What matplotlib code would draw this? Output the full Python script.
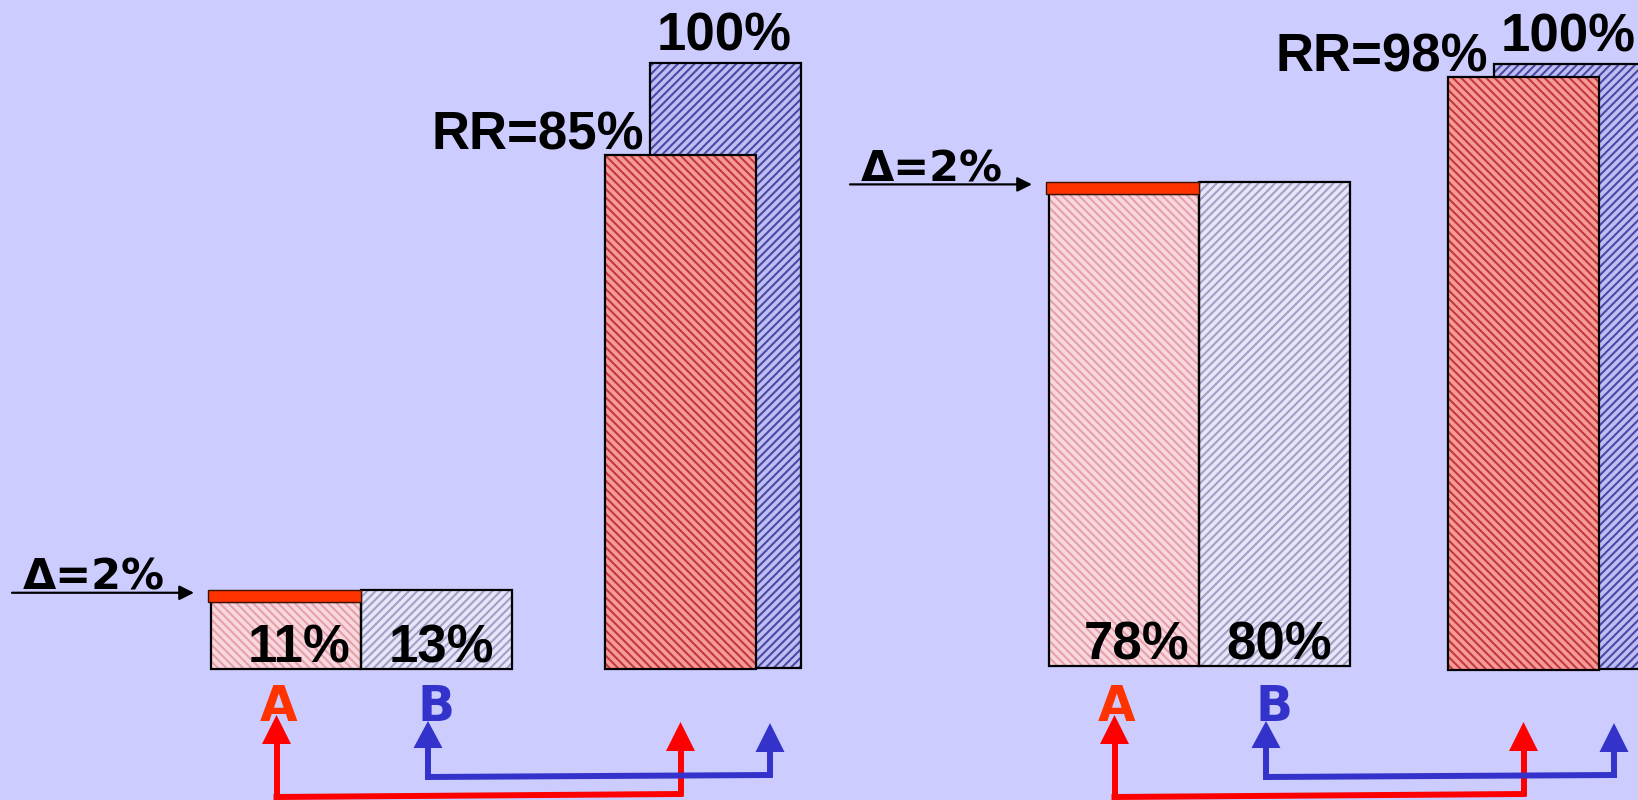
import matplotlib
matplotlib.use("Agg")
import matplotlib.pyplot as plt
from matplotlib.transforms import Affine2D
from matplotlib.patches import Polygon
from matplotlib.lines import Line2D

# ---- data -------------------------------------------------------------
rate_a = [11, 78]        # event rate, treatment A (%)
rate_b = [13, 80]        # event rate, treatment B (%)
rr_a = [85, 98]          # relative rate A vs B (%)
rr_b = [100, 100]        # reference (B = 100%)
arm_labels = ["A", "B"]

# ---- layout -----------------------------------------------------------
W, H = 1638, 800
PX_PER_PCT = 6.05
BASE_PX = 669                      # baseline, pixels from the top
small_left = [211, 1049]           # left edge of the A bar in each panel
small_base = [0.0, 0.5]
big_red_left = [605, 1448]
big_blue_left = [650, 1494]
big_base = [0.0, -0.2]
BW = 150
BIGW = 151

BG = "#CCCCFF"
RED_ARROW = "#FF0000"
BLUE_ARROW = "#3333CC"
ORANGE = "#FF3300"

plt.rcParams["hatch.linewidth"] = 1.5
NUM_FONT = dict(family="Liberation Sans", weight="bold", size=38, color="black")
HAND_FONT = dict(family="DejaVu Sans", weight="bold")

fig = plt.figure(figsize=(W / 100, H / 100), dpi=100, facecolor=BG)
ax = fig.add_axes([0, 0, 1, 1])
ax.set_facecolor(BG)
ax.set_xlim(0, W)
ax.set_ylim(-(H - BASE_PX) / PX_PER_PCT, BASE_PX / PX_PER_PCT)
ax.axis("off")

# pixel coordinates measured from the top-left corner
pix = Affine2D().scale(1, -1).translate(0, H)


def hatched_bar(x, h, w, bottom, fill, hatch_col, hatch, z):
    ax.bar(x, h, w, bottom=bottom, align="edge", color=fill,
           edgecolor=hatch_col, linewidth=0, hatch=hatch, zorder=z)
    ax.bar(x, h, w, bottom=bottom, align="edge", facecolor="none",
           edgecolor="black", linewidth=1.6, zorder=z + 0.1)


def arrow_up(x, tip, base, bottom_y, color, z=6):
    ax.add_line(Line2D([x, x], [base - 1, bottom_y], transform=pix, color=color,
                       lw=4.3, solid_capstyle="butt", zorder=z))
    ax.add_patch(Polygon([[x - 14.5, base], [x + 14.5, base], [x, tip]],
                         closed=True, transform=pix, color=color, lw=0, zorder=z))


for g in range(2):
    a, b = rate_a[g], rate_b[g]
    xa = small_left[g]
    xb = xa + BW
    sb = small_base[g]

    # small bars: raw event rates
    hatched_bar(xa, a, BW, sb, "#F8D8DE", "#E6A0AA", "\\\\\\\\", 2)
    hatched_bar(xb, b, BW + 1, sb, "#E6E6F8", "#A0A0C8", "////", 2)
    # difference between the arms, stacked on A
    ax.bar(xa - 3, b - a, BW + 3, bottom=sb + a, align="edge", color=ORANGE,
           edgecolor="#401000", linewidth=1.0, zorder=4)

    ax.text(xa + BW / 2 + 13, sb + 1.1, f"{a}%", ha="center", va="baseline",
            zorder=7, **NUM_FONT)
    ax.text(xb + BW / 2 + 5, sb + 1.1, f"{b}%", ha="center", va="baseline",
            zorder=7, **NUM_FONT)

    # absolute difference annotation
    y_arrow = sb + b - 0.4
    ax.annotate("", xy=(xa - 17, y_arrow), xytext=(xa - 199, y_arrow),
                arrowprops=dict(arrowstyle="-|>", color="black", lw=1.6,
                                mutation_scale=22, shrinkA=0, shrinkB=0),
                zorder=7)
    ax.text(xa - 188, y_arrow + 0.55, f"\u0394={b - a}%", ha="left",
            va="baseline", fontsize=31, color="black", zorder=7, **HAND_FONT)

    # large bars: relative rates
    xr, xbl = big_red_left[g], big_blue_left[g]
    bb = big_base[g]
    hatched_bar(xbl, rr_b[g], BIGW, bb + 0.2, "#BEBEF4", "#4A4AA6", "////", 1)
    hatched_bar(xr, rr_a[g], BIGW, bb, "#F89A9A", "#C23A3A", "\\\\\\\\", 2)
    ax.text(xbl + BIGW / 2 - 1, bb + rr_b[g] + 2.2, f"{rr_b[g]}%", ha="center",
            va="baseline", zorder=7, **NUM_FONT)
    ax.text(xbl - 6, bb + rr_a[g] + 0.9, f"RR={rr_a[g]}%", ha="right",
            va="baseline", zorder=7, **NUM_FONT)

    # arm letters
    ax.text(xa + BW / 2 - 7, 721, arm_labels[0], transform=pix, ha="center",
            va="baseline", fontsize=35, color=ORANGE, zorder=8, **HAND_FONT)
    ax.text(xb + BW / 2, 721, arm_labels[1], transform=pix, ha="center",
            va="baseline", fontsize=35, color=BLUE_ARROW, zorder=8, **HAND_FONT)

    # connectors between each arm and its relative bar
    x_ra = xa + BW / 2 - 9.5
    x_rb = xr + BIGW / 2
    ax.add_line(Line2D([x_ra, x_rb], [797, 794], transform=pix, color=RED_ARROW,
                       lw=4.3, zorder=5))
    arrow_up(x_ra, 715, 744, 799, RED_ARROW, z=5)
    arrow_up(x_rb, 722, 751, 796, RED_ARROW, z=5)

    x_ba = xb + BW / 2 - 8
    x_bb = xbl + 120
    ax.add_line(Line2D([x_ba, x_bb], [777, 775], transform=pix, color=BLUE_ARROW,
                       lw=4.3, zorder=6))
    arrow_up(x_ba, 721, 748, 779, BLUE_ARROW)
    arrow_up(x_bb, 723, 752, 777, BLUE_ARROW)

fig.savefig("out.png", dpi=100, facecolor=BG)
